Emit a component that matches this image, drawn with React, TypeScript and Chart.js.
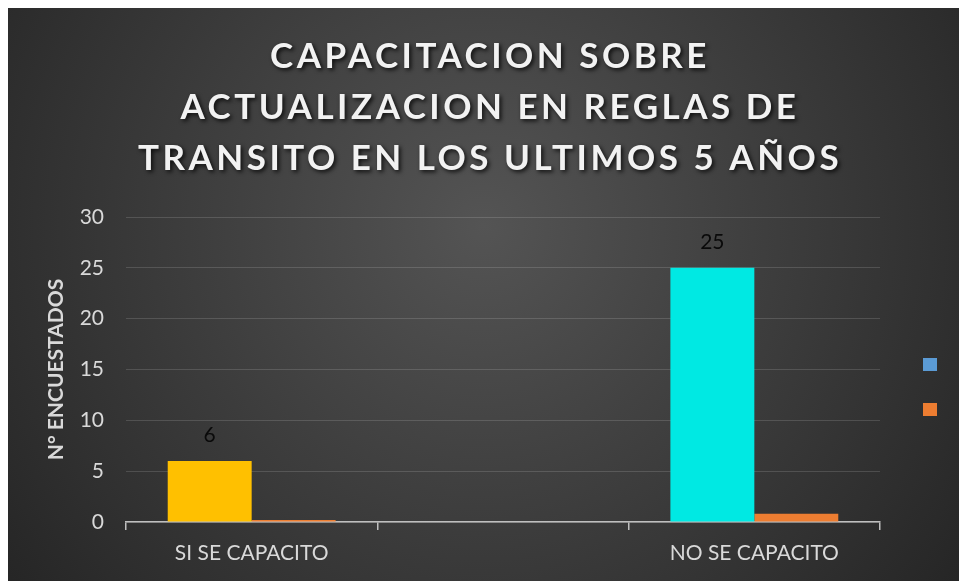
import React, { useEffect, useRef } from 'react';
import { Chart, registerables } from 'chart.js';

Chart.register(...registerables);

const categories = ['SI SE CAPACITO', '', 'NO SE CAPACITO'];
const seriesCount = [6, null, 25];
const seriesPct = [0.19, null, 0.81];
const barColors = ['#FFC000', 'rgba(0,0,0,0)', '#00E9E3'];
const pctColor = '#ED7D31';
const yTicks = [0, 5, 10, 15, 20, 25, 30];
const titleLines = ['CAPACITACION SOBRE', 'ACTUALIZACION EN REGLAS DE', 'TRANSITO EN LOS ULTIMOS 5 AÑOS'];
const yTitle = 'N° ENCUESTADOS';
const legendColors = ['#5B9BD5', '#ED7D31'];

const FONT = 'Lato, "Open Sans", sans-serif';

const bgPlugin = {
  id: 'bgPlugin',
  beforeDraw(chart: any) {
    const { ctx, width, height } = chart;
    ctx.save();
    const g = ctx.createRadialGradient(width * 0.5, height * 0.38, 0, width * 0.5, height * 0.38, width * 0.62);
    g.addColorStop(0, '#545454');
    g.addColorStop(1, '#262626');
    ctx.fillStyle = g;
    ctx.fillRect(0, 0, width, height);
    ctx.restore();
  },
};

const titlePlugin = {
  id: 'titlePlugin',
  afterDraw(chart: any) {
    const { ctx, chartArea } = chart;
    ctx.save();
    ctx.font = `bold 35px ${FONT}`;
    (ctx as any).letterSpacing = '3.5px';
    ctx.textAlign = 'center';
    ctx.textBaseline = 'alphabetic';
    ctx.fillStyle = '#F2F2F2';
    ctx.shadowColor = 'rgba(0,0,0,0.8)';
    ctx.shadowBlur = 4;
    ctx.shadowOffsetX = 2;
    ctx.shadowOffsetY = 2;
    const cx = (chartArea.left + chartArea.right) / 2 - 13;
    titleLines.forEach((line, i) => {
      ctx.fillText(line, cx, 60 + i * 51);
    });
    ctx.restore();
  },
};

const labelPlugin = {
  id: 'labelPlugin',
  afterDatasetsDraw(chart: any) {
    const { ctx } = chart;
    const meta = chart.getDatasetMeta(0);
    ctx.save();
    ctx.font = `21px ${FONT}`;
    ctx.fillStyle = '#0a0a0a';
    ctx.textAlign = 'center';
    ctx.textBaseline = 'middle';
    meta.data.forEach((el: any, i: number) => {
      const v = seriesCount[i];
      if (v === null || v === undefined) return;
      ctx.fillText(String(v), el.x, el.y - 26);
    });
    ctx.restore();
  },
};

const legendPlugin = {
  id: 'legendPlugin',
  afterDraw(chart: any) {
    const { ctx, chartArea } = chart;
    ctx.save();
    legendColors.forEach((c, i) => {
      ctx.fillStyle = c;
      ctx.fillRect(chartArea.right + 43, chartArea.top + 141 + i * 45, 14, 13);
    });
    ctx.restore();
  },
};

export default function App() {
  const ref = useRef<HTMLCanvasElement | null>(null);
  useEffect(() => {
    if (!ref.current) return;
    const chart = new Chart(ref.current, {
      type: 'bar',
      data: {
        labels: categories,
        datasets: [
          {
            label: 'Cantidad',
            data: seriesCount,
            backgroundColor: barColors,
            borderWidth: 0,
            categoryPercentage: 0.668,
            barPercentage: 1,
          },
          {
            label: 'Porcentaje',
            data: seriesPct,
            backgroundColor: pctColor,
            borderWidth: 0,
            categoryPercentage: 0.668,
            barPercentage: 1,
          },
        ],
      },
      options: {
        animation: false,
        responsive: true,
        maintainAspectRatio: false,
        layout: { padding: { top: 209, right: 79, left: 0, bottom: 0 } },
        plugins: {
          legend: { display: false },
          title: { display: false },
          tooltip: { enabled: false },
        },
        scales: {
          x: {
            afterFit: (s: any) => { s.height = 59; },
            grid: {
              display: true,
              drawOnChartArea: false,
              drawTicks: true,
              tickLength: 8,
              color: '#BFBFBF',
              lineWidth: 1.5,
              offset: true,
            },
            border: { display: true, color: '#BFBFBF', width: 1.5 },
            ticks: {
              color: '#D9D9D9',
              font: { family: FONT, size: 21 },
              padding: 11,
              maxRotation: 0,
              autoSkip: false,
            },
          },
          y: {
            min: yTicks[0],
            max: yTicks[yTicks.length - 1],
            afterFit: (s: any) => { s.width = 118; },
            afterBuildTicks: (s: any) => { s.ticks = yTicks.map((v) => ({ value: v })); },
            grid: {
              color: 'rgba(255,255,255,0.14)',
              lineWidth: 1,
              drawTicks: false,
            },
            border: { display: false },
            ticks: {
              color: '#D9D9D9',
              font: { family: FONT, size: 21 },
              padding: 22,
            },
            title: {
              display: true,
              text: yTitle,
              color: '#D9D9D9',
              font: { family: FONT, size: 21, weight: 'bold' },
              padding: { top: 36, bottom: 0 },
            },
          },
        },
      },
      plugins: [bgPlugin, titlePlugin, labelPlugin, legendPlugin],
    });
    return () => chart.destroy();
  }, []);
  return (
    <div style={{ position: 'absolute', left: 8, top: 8, width: 951, height: 573 }}>
      <canvas ref={ref} />
    </div>
  );
}
